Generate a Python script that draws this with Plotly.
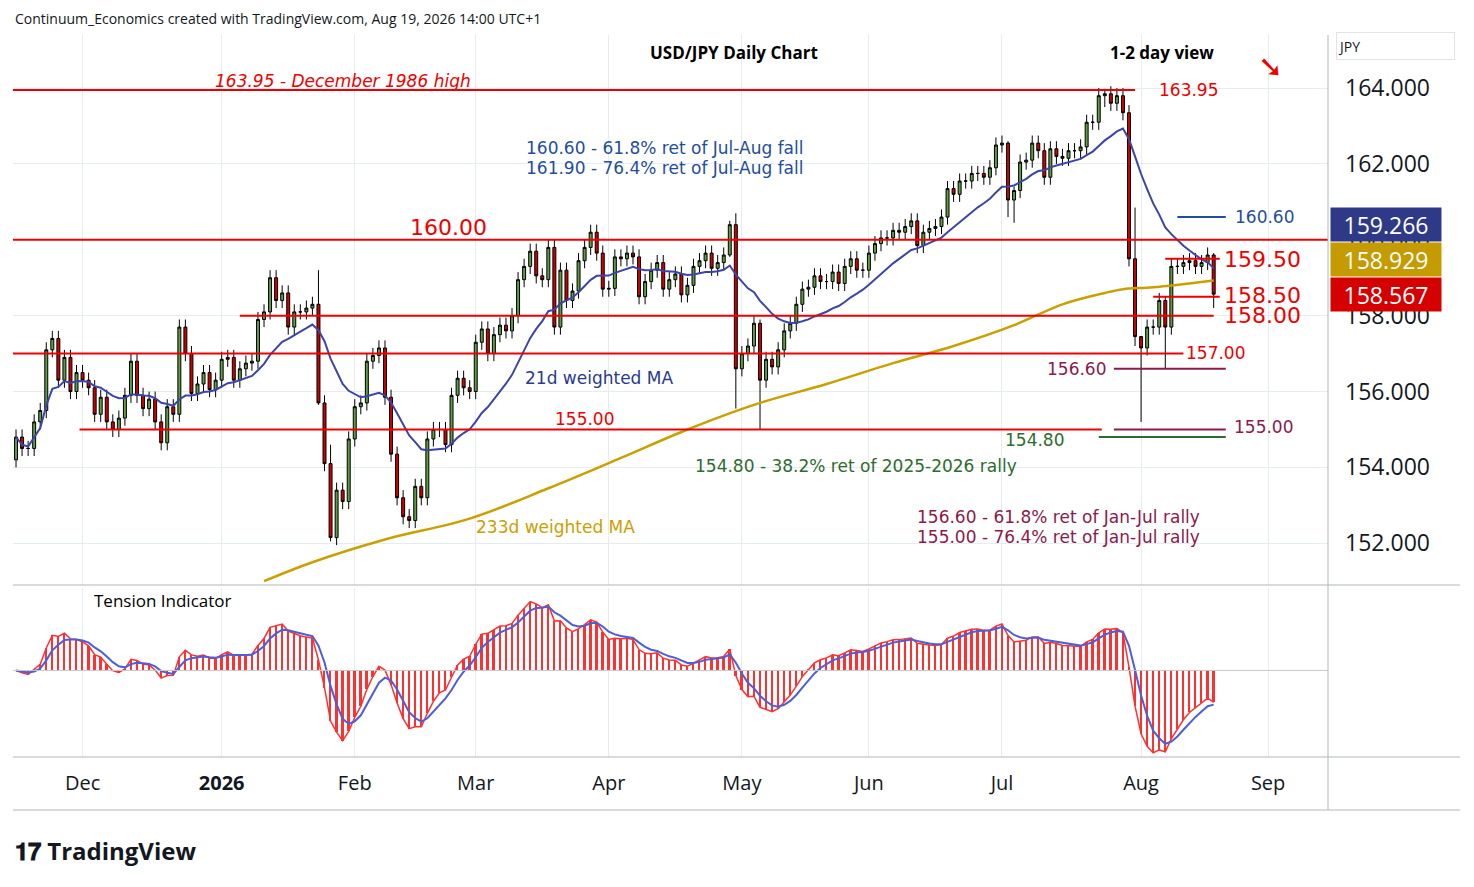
import numpy as np
import pandas as pd
import plotly.graph_objects as go

closes = [154.8,154.5,154.5,155.2,155.5,157.1,157.4,156.3,156.9,156.0,156.5,156.3,156.1,155.4,155.85,155.2,155.0,155.3,155.9,156.8,
155.9,155.55,155.8,155.2,154.65,155.6,155.4,157.7,157.0,155.95,156.2,156.5,156.05,156.3,156.85,156.9,156.3,156.6,156.75,156.8,
157.9,158.1,159.0,158.4,158.6,157.7,158.1,158.1,158.2,158.3,155.7,154.1,152.15,153.4,153.1,154.75,155.6,155.7,156.8,156.95,
157.15,155.85,154.35,153.2,152.7,152.6,153.5,153.2,154.75,155.0,155.0,154.6,155.9,156.35,156.1,156.0,157.3,157.65,157.0,157.5,
157.75,157.6,158.0,158.95,159.3,159.7,159.05,158.95,159.8,157.7,159.2,158.4,158.65,159.45,159.8,160.2,159.65,158.7,158.72,159.55,
159.5,159.65,159.55,158.5,158.9,159.2,159.4,158.7,158.95,159.1,158.55,158.8,159.3,159.45,159.65,159.25,159.4,159.6,160.4,156.6,
157.0,157.2,157.8,156.3,156.85,156.65,157.1,157.6,157.8,158.3,158.7,158.75,159.05,158.9,158.9,159.15,158.85,159.3,159.5,159.2,
159.2,159.65,159.9,160.05,160.05,160.25,160.2,160.35,160.5,159.85,160.2,160.3,160.35,160.6,161.35,161.2,161.55,161.55,161.75,161.75,
161.65,161.9,162.5,162.55,161.05,161.3,162.05,162.1,162.55,162.35,161.65,162.4,162.2,162.15,162.35,162.35,
162.45,163.1,163.1,163.8,163.85,163.6,163.8,163.35,159.5,157.45,157.15,157.7,157.7,158.4,157.7,159.3,159.3,159.4,159.45,159.3,159.4,159.6,158.567]
first_open = 154.2
wick_overrides = {50:(159.2,155.65),52:(154.6,152.05),118:(160.5,159.55),119:(160.7,155.55),123:(157.9,155.0),
                  164:(162.6,160.6),165:(161.4,160.45),180:(163.98,163.5),185:(160.85,157.2),186:(157.4,155.2),
                  190:(158.5,156.6),198:(159.65,158.2)}
ma233_idx = [41,49,61,75,88,100,111,122,134,145,155,165,173,180,183,188,198]
ma233_val = [151.0,151.5,152.1,152.65,153.45,154.25,155.0,155.65,156.2,156.75,157.2,157.75,158.3,158.6,158.7,158.75,158.93]
month_labels = ["Dec","<b>2026</b>","Feb","Mar","Apr","May","Jun","Jul","Aug","Sep"]

n = len(closes)
dates = pd.bdate_range(end="2026-08-19", periods=n)
ext = pd.bdate_range(start=dates[0], end="2026-09-30")
x = np.arange(n)
c = np.array(closes)
o = np.concatenate([[first_open], c[:-1]])
h = np.maximum(o, c) + 0.2
l = np.minimum(o, c) - 0.2
for k,(hh,ll) in wick_overrides.items():
    h[k] = hh; l[k] = ll

def wma(a, w):
    out = []
    for i in range(len(a)):
        seg = a[max(0,i-w+1):i+1]
        wt = np.arange(1,len(seg)+1)
        out.append((seg*wt).sum()/wt.sum())
    return np.array(out)
ma21 = wma(c, 21)

def ema(a, s):
    al = 2/(s+1); out=[a[0]]
    for v in a[1:]: out.append(out[-1]+al*(v-out[-1]))
    return np.array(out)
hist = ema(c,6) - ema(c,26)
sig = ema(hist,4)

tickpos = []
for yy,mm in [(2025,12),(2026,1),(2026,2),(2026,3),(2026,4),(2026,5),(2026,6),(2026,7),(2026,8),(2026,9)]:
    idx = np.where((ext.year==yy)&(ext.month==mm))[0][0]
    tickpos.append(int(idx))

OFF = 8
L, RM, T, B = 13-OFF, 146+OFF, 35-OFF, 130+OFF
PW = 1474 - L - RM
PH = 887 - T - B
def px2x(px): return (px - OFF - L) / PW
def py2y(py): return (887 - B - (py - OFF)) / PH

FONT = "DejaVu Sans"
fig = go.Figure()
fig.add_trace(go.Scatter(x=ma233_idx, y=ma233_val, mode="lines", line=dict(color="#c9a000", width=2.5, shape="spline"), xaxis="x", yaxis="y", hoverinfo="skip"))
fig.add_trace(go.Scatter(x=x, y=ma21, mode="lines", line=dict(color="#3c44a8", width=2), xaxis="x", yaxis="y"))
fig.add_trace(go.Candlestick(x=x, open=o, high=h, low=l, close=c, xaxis="x", yaxis="y",
    increasing=dict(fillcolor="#5e9e43", line=dict(color="#000000", width=1)),
    decreasing=dict(fillcolor="#d00000", line=dict(color="#000000", width=1)), whiskerwidth=0))
fig.add_trace(go.Bar(x=x, y=hist, marker=dict(color="#ff3030", line=dict(width=0)), width=0.3, xaxis="x2", yaxis="y2"))
fig.add_trace(go.Scatter(x=x, y=hist, mode="lines", line=dict(color="#ff3030", width=1.5), xaxis="x2", yaxis="y2"))
fig.add_trace(go.Scatter(x=x, y=sig, mode="lines", line=dict(color="#4a5fd8", width=2), xaxis="x2", yaxis="y2"))

R = "#ee0000"
def hl(y, x0, x1, col=R, w=2):
    fig.add_shape(type="line", xref="x", yref="y", x0=x0, x1=x1, y0=y, y1=y, line=dict(color=col, width=w))
hl(163.95, -0.5, 185)
hl(160.0, -0.5, 216.9)
hl(158.0, 37, 198)
hl(157.0, -0.5, 193)
hl(155.0, 10.5, 179.5)
hl(155.0, 181.5, 200, "#8b1a4a")
hl(154.8, 179, 200, "#2e6b2e")
hl(156.6, 181.5, 200, "#8b1a4a")
hl(159.5, 190, 199)
hl(158.5, 188, 199)
hl(160.6, 192, 200, "#1f4e9c")
fig.add_shape(type="line", xref="x2", yref="y2", x0=-0.5, x1=216.9, y0=0, y1=0, line=dict(color="#c8c8c8", width=1))

def ann(t, px, py, col, size, bold=False, italic=False, anchor="center", family=FONT):
    if bold: t = "<b>"+t+"</b>"
    if italic: t = "<i>"+t+"</i>"
    fig.add_annotation(text=t, x=px2x(px), y=py2y(py), xref="paper", yref="paper", showarrow=False,
                       font=dict(color=col, size=size, family=family), xanchor=anchor, yanchor="middle")
ann("163.95 - December 1986 high", 343, 81, R, 17, italic=True)
ann("163.95", 1188, 90, R, 17)
ann("160.00", 448, 227, R, 22)
ann("160.60 - 61.8% ret of Jul-Aug fall", 665, 148, "#1f4e9c", 17)
ann("161.90 - 76.4% ret of Jul-Aug fall", 665, 168, "#1f4e9c", 17)
ann("160.60", 1264, 217, "#1f4e9c", 17)
ann("159.50", 1262, 259, R, 22)
ann("158.50", 1262, 295, R, 22)
ann("158.00", 1262, 316, R, 22)
ann("157.00", 1215, 353, R, 17)
ann("156.60", 1076, 369, "#8b1a4a", 17)
ann("155.00", 584, 419, R, 17)
ann("155.00", 1263, 427, "#8b1a4a", 17)
ann("154.80", 1034, 440, "#2e6b2e", 17)
ann("154.80 - 38.2% ret of 2025-2026 rally", 856, 466, "#2e6b2e", 17)
ann("21d weighted MA", 599, 378, "#2a3a8c", 17)
ann("233d weighted MA", 555, 527, "#c9a000", 17)
ann("156.60 - 61.8% ret of Jan-Jul rally", 1058, 517, "#8b1a4a", 17)
ann("155.00 - 76.4% ret of Jan-Jul rally", 1058, 537, "#8b1a4a", 17)
ann("USD/JPY Daily Chart", 734, 53, "#000000", 17, bold=True, family="Open Sans")
ann("1-2 day view", 1162, 53, "#000000", 17, bold=True, family="Open Sans")
ann("➘", 1270, 66, R, 30)
ann("Tension Indicator", 163, 600, "#000000", 17, family="Open Sans")
ann("Continuum_Economics created with TradingView.com, Aug 19, 2026 14:00 UTC+1", 13, 19, "#131722", 14, anchor="left", family="Open Sans")
ann("<b>𝟏𝟕 TradingView</b>", 13, 850, "#131722", 24, anchor="left", family="Open Sans")

def box(t, py, bg, fg="white"):
    fig.add_annotation(text=t, x=px2x(1330), y=py2y(py), xref="paper", yref="paper", showarrow=False, xanchor="left",
                       yanchor="middle", bgcolor=bg, font=dict(color=fg, size=23, family="Open Sans"), width=108, height=31, align="center")
box("159.266", 224, "#2e3a87")
box("158.929", 259, "#c49b00")
box("158.567", 294, "#d50000")
fig.add_annotation(text="JPY", x=px2x(1336), y=py2y(46), xref="paper", yref="paper", showarrow=False, xanchor="left",
                   yanchor="middle", font=dict(size=14, color="#131722"), bordercolor="#e0e3eb", borderwidth=1, width=115, height=24, align="left")

for y0,y1,x0,x1 in [(35,810,1328,1328),(585,585,13,1460),(757,757,13,1460),(810,810,13,1460)]:
    fig.add_shape(type="line", xref="paper", yref="paper", x0=px2x(x0), x1=px2x(x1), y0=py2y(y0), y1=py2y(y1),
                  line=dict(color="#b2b5be", width=1))

grid = "#e6ecf3"
xr = [-0.5, 216.9]
pdom = [(757-585)/722, 1]
idom = [0, (757-588)/722]
fig.update_layout(
    width=1474, height=887, margin=dict(l=L, r=RM, t=T, b=B),
    paper_bgcolor="white", plot_bgcolor="white", showlegend=False, bargap=0,
    xaxis=dict(domain=[0,1], range=xr, anchor="y", showticklabels=False, tickvals=tickpos, showgrid=True, gridcolor=grid,
               rangeslider=dict(visible=False), zeroline=False),
    yaxis=dict(domain=pdom, range=[150.9, 165.4], side="right", tickvals=[152,154,156,158,160,162,164],
               tickformat=".3f", tickfont=dict(size=23, color="#131722", family="Open Sans"), showgrid=True, gridcolor=grid,
               zeroline=False, ticklabelstandoff=16),
    xaxis2=dict(domain=[0,1], range=xr, anchor="y2", tickvals=tickpos, ticktext=month_labels, showgrid=True, gridcolor=grid,
                tickfont=dict(size=20, color="#131722", family="Open Sans"), ticklabelstandoff=12, zeroline=False),
    yaxis2=dict(domain=idom, range=[-1.05*np.abs(hist).max(), 1.0*np.abs(hist).max()], side="right", showticklabels=False,
                showgrid=False, zeroline=False),
)
fig.write_html("out.html")
